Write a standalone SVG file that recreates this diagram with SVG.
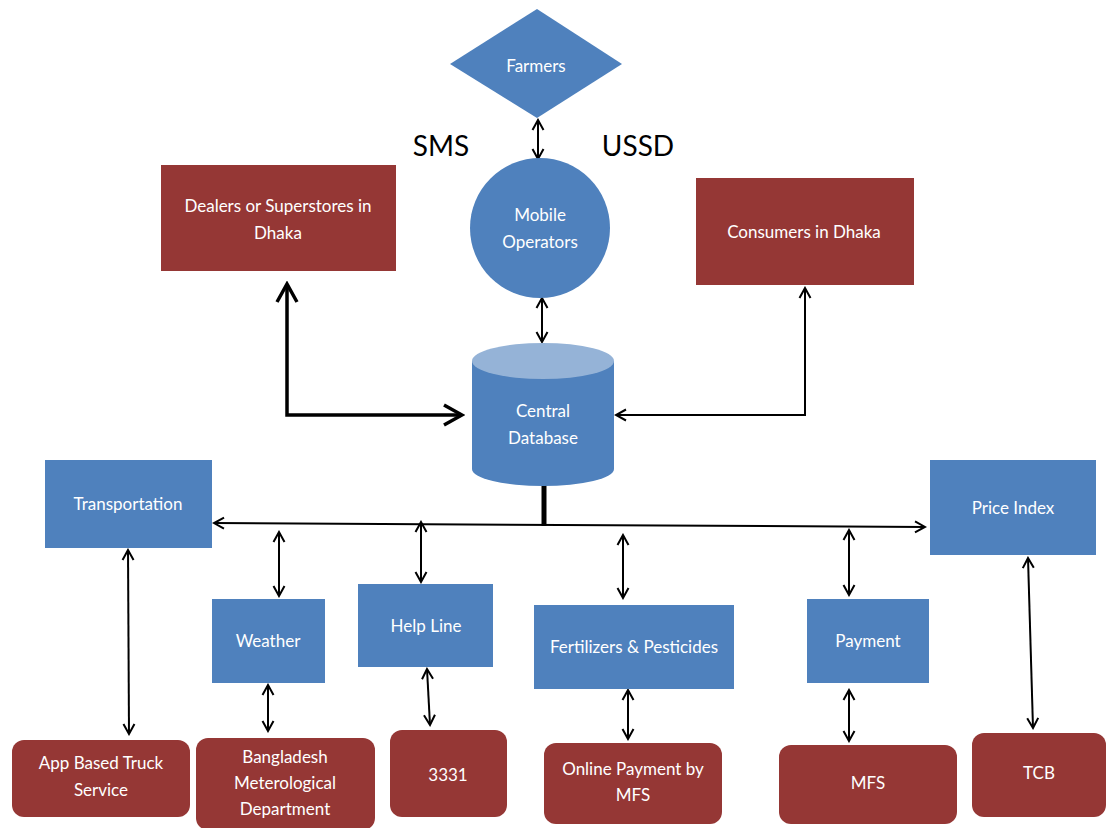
<svg xmlns="http://www.w3.org/2000/svg" width="1107" height="828" viewBox="0 0 1107 828">
<style>
.b{fill:#4F81BD}
.r{fill:#953735}
.t{font-family:Lato,"Liberation Sans",sans-serif;font-size:17px;fill:#fff;text-anchor:middle}
.k{font-family:Lato,"Liberation Sans",sans-serif;font-size:28px;fill:#000;text-anchor:middle}
.c{fill:none;stroke:#000;stroke-width:2}
.ct{fill:none;stroke:#000;stroke-width:3.5}
</style>
<defs>
<marker id="a" markerUnits="userSpaceOnUse" viewBox="0 0 14 14" markerWidth="14" markerHeight="14" refX="12" refY="7" orient="auto-start-reverse">
<path d="M2,1.5 L12,7 L2,12.5" fill="none" stroke="#000" stroke-width="2"/>
</marker>
<marker id="at" markerUnits="userSpaceOnUse" viewBox="0 0 24 24" markerWidth="24" markerHeight="24" refX="21" refY="12" orient="auto-start-reverse">
<path d="M3,2 L21,12 L3,22" fill="none" stroke="#000" stroke-width="3.5"/>
</marker>
</defs>

<g id="connectors">
<line class="c" x1="538" y1="120" x2="538" y2="159" marker-start="url(#a)" marker-end="url(#a)"/>
<line class="c" x1="542" y1="298" x2="542" y2="342" marker-start="url(#a)" marker-end="url(#a)"/>
<polyline class="ct" points="287,284 287,415 462,415" marker-start="url(#at)" marker-end="url(#at)"/>
<polyline class="c" points="805,288 805,415 616,415" marker-start="url(#a)" marker-end="url(#a)"/>
<line x1="544" y1="481" x2="544" y2="526" stroke="#000" stroke-width="5"/>
<line class="c" x1="214" y1="523" x2="925" y2="527" stroke-width="2.5" marker-start="url(#a)" marker-end="url(#a)"/>
<line class="c" x1="279" y1="532" x2="279" y2="596" marker-start="url(#a)" marker-end="url(#a)"/>
<line class="c" x1="421" y1="522" x2="421" y2="582" marker-start="url(#a)" marker-end="url(#a)"/>
<line class="c" x1="623" y1="535" x2="623" y2="598" marker-start="url(#a)" marker-end="url(#a)"/>
<line class="c" x1="849" y1="530" x2="849" y2="595" marker-start="url(#a)" marker-end="url(#a)"/>
<line class="c" x1="128" y1="550" x2="129" y2="734" marker-start="url(#a)" marker-end="url(#a)"/>
<line class="c" x1="1028" y1="558" x2="1033" y2="728" marker-start="url(#a)" marker-end="url(#a)"/>
<line class="c" x1="268" y1="685" x2="268" y2="731" marker-start="url(#a)" marker-end="url(#a)"/>
<line class="c" x1="427" y1="669" x2="430" y2="725" marker-start="url(#a)" marker-end="url(#a)"/>
<line class="c" x1="628" y1="690" x2="628" y2="739" marker-start="url(#a)" marker-end="url(#a)"/>
<line class="c" x1="849" y1="690" x2="849" y2="741" marker-start="url(#a)" marker-end="url(#a)"/>
</g>

<g id="farmers">
<polygon class="b" points="537,9 622,64 537,118 450,64"/>
<text class="t" x="536" y="72">Farmers</text>
</g>
<g id="sms"><text class="k" x="441" y="156">SMS</text></g>
<g id="ussd"><text class="k" x="638" y="156">USSD</text></g>

<g id="mobile">
<circle class="b" cx="540" cy="228" r="70"/>
<text class="t" x="540" y="221">Mobile</text>
<text class="t" x="540" y="248">Operators</text>
</g>

<g id="dealers">
<rect class="r" x="161" y="165" width="235" height="106"/>
<text class="t" x="278" y="212">Dealers or Superstores in</text>
<text class="t" x="278" y="239">Dhaka</text>
</g>

<g id="consumers">
<rect class="r" x="696" y="178" width="218" height="107"/>
<text class="t" x="804" y="238">Consumers in Dhaka</text>
</g>

<g id="database">
<path class="b" d="M472,361 L472,469 A71,17 0 0 0 614,469 L614,361 Z"/>
<ellipse cx="543" cy="361" rx="71" ry="18" fill="#95B3D7"/>
<text class="t" x="543" y="417">Central</text>
<text class="t" x="543" y="444">Database</text>
</g>

<g id="transportation">
<rect class="b" x="45" y="460" width="167" height="88"/>
<text class="t" x="128" y="510">Transportation</text>
</g>
<g id="priceindex">
<rect class="b" x="930" y="460" width="166" height="95"/>
<text class="t" x="1013" y="514">Price Index</text>
</g>
<g id="weather">
<rect class="b" x="212" y="599" width="113" height="84"/>
<text class="t" x="268" y="647">Weather</text>
</g>
<g id="helpline">
<rect class="b" x="358" y="584" width="135" height="83"/>
<text class="t" x="426" y="632">Help Line</text>
</g>
<g id="fertilizers">
<rect class="b" x="534" y="605" width="200" height="84"/>
<text class="t" x="634" y="653">Fertilizers &amp; Pesticides</text>
</g>
<g id="payment">
<rect class="b" x="807" y="599" width="122" height="84"/>
<text class="t" x="868" y="647">Payment</text>
</g>

<g id="truck">
<rect class="r" x="12" y="740" width="178" height="77" rx="12"/>
<text class="t" x="101" y="769">App Based Truck</text>
<text class="t" x="101" y="796">Service</text>
</g>
<g id="bmd">
<rect class="r" x="196" y="738" width="179" height="92" rx="12"/>
<text class="t" x="285" y="763">Bangladesh</text>
<text class="t" x="285" y="789">Meterological</text>
<text class="t" x="285" y="815">Department</text>
</g>
<g id="n3331">
<rect class="r" x="390" y="730" width="117" height="87" rx="12"/>
<text class="t" x="448" y="781">3331</text>
</g>
<g id="onlinepay">
<rect class="r" x="544" y="743" width="178" height="81" rx="12"/>
<text class="t" x="633" y="775">Online Payment by</text>
<text class="t" x="633" y="801">MFS</text>
</g>
<g id="mfs">
<rect class="r" x="779" y="745" width="178" height="79" rx="12"/>
<text class="t" x="868" y="789">MFS</text>
</g>
<g id="tcb">
<rect class="r" x="972" y="733" width="134" height="84" rx="12"/>
<text class="t" x="1039" y="779">TCB</text>
</g>
</svg>
